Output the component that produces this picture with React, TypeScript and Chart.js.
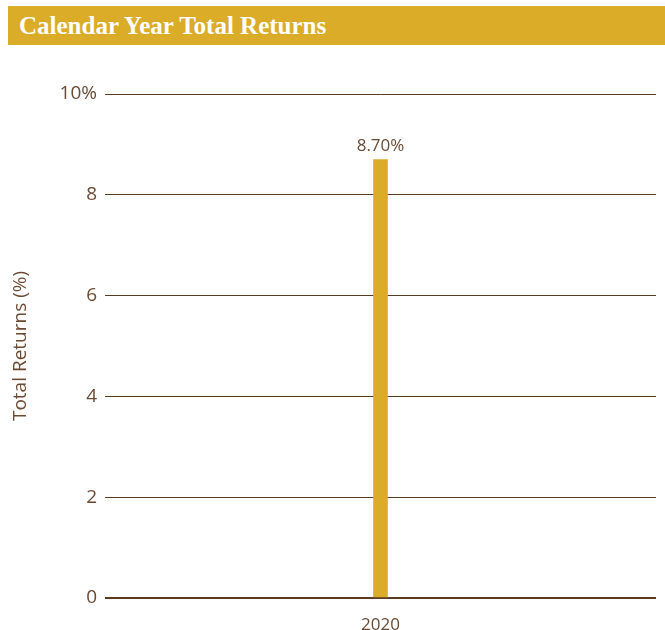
import React, { useEffect, useRef } from "react";
import { Chart, registerables } from "chart.js";

Chart.register(...registerables);

const categories = ["2020"];
const returnsValues = [8.7];
const valueLabels = ["8.70%"];
const yTickValues = [0, 2, 4, 6, 8, 10];

const GOLD = "#DAAC28";
const BROWN_TEXT = "#6B4A33";
const BROWN_LINE = "#5C3B1F";
const SANS = "'Open Sans'";

const barLabelPlugin = {
  id: "barLabels",
  afterDatasetsDraw(chart: any) {
    const ctx = chart.ctx;
    const meta = chart.getDatasetMeta(0);
    ctx.save();
    ctx.fillStyle = BROWN_TEXT;
    ctx.font = "17px " + SANS;
    ctx.textAlign = "center";
    ctx.textBaseline = "bottom";
    meta.data.forEach((el: any, i: number) => {
      ctx.fillText(valueLabels[i], el.x, el.y - 5);
    });
    ctx.restore();
  },
};

export default function App() {
  const ref = useRef<HTMLCanvasElement | null>(null);
  useEffect(() => {
    if (!ref.current) return;
    const chart = new Chart(ref.current, {
      type: "bar",
      data: {
        labels: categories,
        datasets: [
          {
            data: returnsValues,
            backgroundColor: GOLD,
            barThickness: 14,
          },
        ],
      },
      options: {
        animation: false,
        responsive: false,
        maintainAspectRatio: false,
        layout: { padding: { top: 48, right: 9, left: 0, bottom: 0 } },
        plugins: { legend: { display: false }, tooltip: { enabled: false } },
        scales: {
          x: {
            grid: { display: false },
            border: { display: false },
            ticks: {
              color: BROWN_TEXT,
              font: { family: SANS, size: 17 },
              padding: 9,
            },
            afterFit: (s: any) => {
              s.height = 32;
            },
          },
          y: {
            min: 0,
            max: 10,
            afterBuildTicks: (s: any) => {
              s.ticks = yTickValues.map((v) => ({ value: v }));
            },
            grid: {
              color: BROWN_LINE,
              lineWidth: (c: any) => (c.tick && c.tick.value === 0 ? 2 : 1),
              drawTicks: false,
            },
            border: { display: false },
            ticks: {
              color: BROWN_TEXT,
              font: { family: SANS, size: 19 },
              padding: 8,
              callback: (v: any) => (v === 10 ? "10%" : String(v)),
            },
            title: {
              display: true,
              text: "Total Returns (%)",
              color: BROWN_TEXT,
              font: { family: SANS, size: 19 },
              padding: 1,
            },
            afterFit: (s: any) => {
              s.width = 97;
            },
          },
        },
      },
      plugins: [barLabelPlugin],
    });
    return () => chart.destroy();
  }, []);

  return (
    <div
      style={{
        position: "fixed",
        left: 0,
        top: 0,
        width: 665,
        height: 630,
        overflow: "hidden",
        background: "#fff",
      }}
    >
      <div
        style={{
          position: "absolute",
          left: 8,
          top: 6,
          width: 657,
          height: 39,
          background: GOLD,
          display: "flex",
          alignItems: "center",
          paddingLeft: 11,
          boxSizing: "border-box",
        }}
      >
        <span
          style={{
            color: "#fff",
            fontFamily: "'Liberation Serif', serif",
            fontWeight: 700,
            fontSize: 25,
            whiteSpace: "nowrap",
          }}
        >
          Calendar Year Total Returns
        </span>
      </div>
      <canvas
        ref={ref}
        width={657}
        height={584}
        style={{ position: "absolute", left: 8, top: 46, display: "block" }}
      />
    </div>
  );
}
